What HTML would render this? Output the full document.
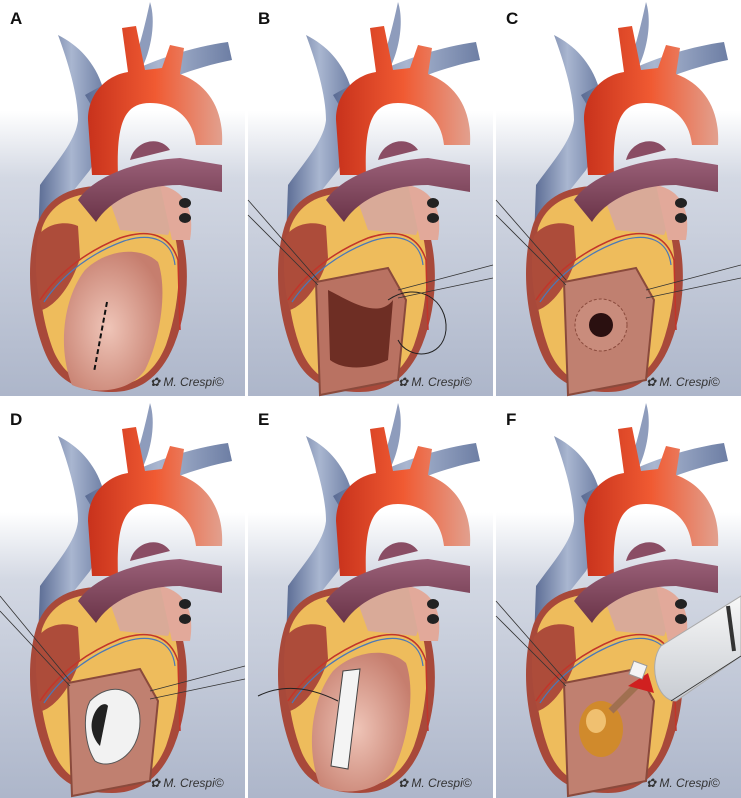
<!DOCTYPE html>
<html><head><meta charset="utf-8"><style>
html,body{margin:0;padding:0;background:#fff;}
svg{display:block;}
text{font-family:"Liberation Sans",sans-serif;}
</style></head><body>
<svg width="741" height="798" viewBox="0 0 741 798" xmlns="http://www.w3.org/2000/svg">
<defs>
<linearGradient id="bg" x1="0" y1="0" x2="0" y2="1">
<stop offset="0" stop-color="#ffffff"/><stop offset="0.28" stop-color="#ffffff"/><stop offset="0.45" stop-color="#d3d8e3"/><stop offset="1" stop-color="#adb6ca"/>
</linearGradient>
<linearGradient id="red" x1="0" y1="0" x2="1" y2="0"><stop offset="0" stop-color="#c8321c"/><stop offset="0.5" stop-color="#f05a32"/><stop offset="1" stop-color="#e2a08e"/></linearGradient>
<linearGradient id="blu" x1="0" y1="0" x2="1" y2="0"><stop offset="0" stop-color="#5b6c94"/><stop offset="0.5" stop-color="#a9b6d0"/><stop offset="1" stop-color="#6d7ea4"/></linearGradient>
<linearGradient id="pur" x1="0" y1="0" x2="0" y2="1"><stop offset="0" stop-color="#9a6078"/><stop offset="1" stop-color="#6a3448"/></linearGradient>
<radialGradient id="pink" cx="0.45" cy="0.55" r="0.6"><stop offset="0" stop-color="#efc5b8"/><stop offset="1" stop-color="#c67e6e"/></radialGradient>
<linearGradient id="syr" x1="0" y1="0" x2="0" y2="1"><stop offset="0" stop-color="#f8f8f8"/><stop offset="1" stop-color="#c8ccd2"/></linearGradient>
<g id="heart">
<path d="M58,35 C78,45 95,62 103,88 L105,115 C105,135 98,155 90,170 L62,205 L38,240 L40,185 C58,160 76,140 78,120 C78,95 68,62 58,35 Z" fill="url(#blu)"/>
<path d="M85,95 C120,75 170,50 228,42 L232,60 C182,70 132,92 100,120 Z" fill="url(#blu)"/>
<path d="M150,2 C156,20 152,50 140,72 L128,76 C138,55 145,25 150,2 Z" fill="#8e9cbc"/>
<path d="M92,175 L88,120 C88,92 108,75 128,72 L122,28 L136,26 L145,70 L162,68 L170,45 L184,48 L180,74 C210,85 224,112 222,145 L196,145 C193,118 175,103 150,103 C125,103 116,122 118,175 Z" fill="url(#red)"/>
<path d="M36,228 C26,262 28,312 46,355 C58,382 80,392 112,392 C142,392 162,374 174,345 C190,305 190,260 180,228 C166,198 140,188 100,186 C68,186 44,200 36,228 Z" fill="#a8493a"/>
<path d="M42,228 C36,262 38,312 54,352 C66,378 84,386 110,386 C138,386 156,370 166,345 C180,305 182,262 174,232 C162,205 138,195 100,193 C70,193 50,205 42,228 Z" fill="#eebc5c"/>
<path d="M38,236 C34,262 36,292 42,310 C56,305 72,285 80,258 L78,226 C64,220 46,224 38,236 Z" fill="#ad4c3a"/>
<path d="M105,188 L160,185 C172,200 175,220 168,235 L120,230 Z" fill="#d9aa98"/>
<path d="M160,185 C185,190 195,210 190,240 L172,240 Z" fill="#e2a99a"/>
<ellipse cx="185" cy="203" rx="6" ry="5" fill="#222"/>
<ellipse cx="185" cy="218" rx="6" ry="5" fill="#222"/>
<path d="M78,200 C95,175 140,160 180,158 L222,165 L222,192 L180,185 C140,185 110,200 96,222 Z" fill="url(#pur)"/>
<path d="M130,160 C135,140 160,135 170,150 Z" fill="#8a4d64"/>
<path d="M40,300 C60,270 90,250 120,238 C150,228 170,235 178,260 L180,330" fill="none" stroke="#c2352a" stroke-width="1.5"/>
<path d="M44,302 C64,272 94,252 124,241 C152,232 172,240 175,265" fill="none" stroke="#4a78b8" stroke-width="1.2"/>
</g>
<g id="lv">
<path d="M72,385 C58,350 62,300 85,270 C105,250 140,245 158,262 C168,290 160,340 145,370 C130,392 95,395 72,385 Z" fill="url(#pink)"/>
</g>
<g id="wm"><text x="150" y="386" font-size="12" font-style="italic" fill="#333">✿ M. Crespi©</text></g>
</defs>

<g transform="translate(0,0)"><rect width="245" height="396" fill="url(#bg)"/><use href="#heart"/><use href="#lv"/><path d="M107,302 L94,372" stroke="#111" stroke-width="2" stroke-dasharray="5,3"/><use href="#wm"/><text x="10" y="24" font-size="17" font-weight="bold" fill="#111">A</text></g>

<g transform="translate(248,0)"><rect width="245" height="396" fill="url(#bg)"/><use href="#heart"/>
<path d="M68,282 L140,268 L158,300 L150,380 L72,395 Z" fill="#b97262" stroke="#8a4a3c" stroke-width="2"/>
<path d="M80,290 C100,300 130,320 145,300 L140,360 C120,370 95,370 82,360 Z" fill="#6e2e24"/>
<path d="M140,300 C170,280 200,300 198,330 C195,360 160,360 150,340" fill="none" stroke="#222" stroke-width="1"/>
<path d="M0,200 L70,280 M0,215 L70,285 M245,265 L150,290 M245,278 L150,298" stroke="#333" stroke-width="0.8"/>
<use href="#wm"/><text x="10" y="24" font-size="17" font-weight="bold" fill="#111">B</text></g>

<g transform="translate(496,0)"><rect width="245" height="396" fill="url(#bg)"/><use href="#heart"/>
<path d="M68,282 L140,268 L158,300 L150,380 L72,395 Z" fill="#c08070" stroke="#8a4a3c" stroke-width="2"/>
<circle cx="105" cy="325" r="26" fill="#c98c7c" stroke="#8a4a3c" stroke-dasharray="3,2"/>
<circle cx="105" cy="325" r="12" fill="#2a1010"/>
<path d="M0,200 L70,280 M0,215 L70,285 M245,265 L150,290 M245,278 L150,298" stroke="#333" stroke-width="0.8"/>
<use href="#wm"/><text x="10" y="24" font-size="17" font-weight="bold" fill="#111">C</text></g>

<g transform="translate(0,401)"><rect width="245" height="397" fill="url(#bg)"/><use href="#heart"/>
<path d="M68,282 L140,268 L158,300 L150,380 L72,395 Z" fill="#c08070" stroke="#8a4a3c" stroke-width="2"/>
<path d="M90,300 C110,280 140,285 140,320 C140,355 110,370 95,360 C85,345 82,315 90,300 Z" fill="#f2f2f2" stroke="#555"/>
<path d="M92,320 C95,305 105,300 108,305 L100,345 C95,340 90,330 92,320 Z" fill="#222"/>
<path d="M0,195 L70,280 M0,210 L70,285 M245,265 L150,290 M245,278 L150,298" stroke="#333" stroke-width="0.8"/>
<use href="#wm"/><text x="10" y="24" font-size="17" font-weight="bold" fill="#111">D</text></g>

<g transform="translate(248,401)"><rect width="245" height="397" fill="url(#bg)"/><use href="#heart"/><use href="#lv"/>
<path d="M95,270 L112,268 L100,368 L83,365 Z" fill="#f4f4f4" stroke="#444"/>
<path d="M10,295 C40,280 70,290 90,300" fill="none" stroke="#222"/>
<use href="#wm"/><text x="10" y="24" font-size="17" font-weight="bold" fill="#111">E</text></g>

<g transform="translate(496,401)"><rect width="245" height="397" fill="url(#bg)"/><use href="#heart"/>
<path d="M68,282 L140,268 L158,300 L150,380 L72,395 Z" fill="#c08070" stroke="#8a4a3c" stroke-width="2"/>
<ellipse cx="105" cy="328" rx="22" ry="28" fill="#d08a2c"/>
<ellipse cx="100" cy="320" rx="10" ry="12" fill="#f0c070"/>
<path d="M115,310 L140,285" stroke="#a07050" stroke-width="7"/>
<path d="M132,285 L152,272 L158,292 Z" fill="#d02020"/>
<rect x="135" y="262" width="14" height="14" fill="#f4f4f4" stroke="#999" transform="rotate(20 142 269)"/>
<path d="M165,245 L245,195 L245,255 L180,300 C160,300 152,262 165,245 Z" fill="url(#syr)" stroke="#aaa"/>
<path d="M232,205 L238,250" stroke="#333" stroke-width="4"/>
<path d="M0,200 L70,280 M0,215 L70,285 M245,255 L175,300" stroke="#333" stroke-width="0.8"/>
<use href="#wm"/><text x="10" y="24" font-size="17" font-weight="bold" fill="#111">F</text></g>
</svg>
</body></html>
